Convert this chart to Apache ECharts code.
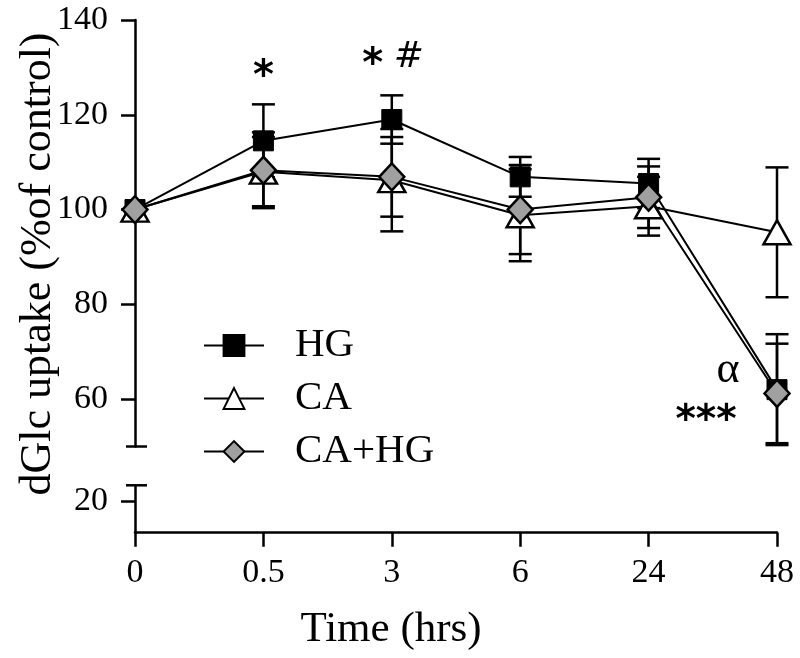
<!DOCTYPE html>
<html>
<head>
<meta charset="utf-8">
<script src="https://cdn.jsdelivr.net/npm/echarts@6/dist/echarts.min.js"></script>
<style>html,body{margin:0;padding:0;background:#fff}#c{width:800px;height:658px}</style>
</head>
<body>
<div id="c"></div>
<script>
// ---- data ----
const categories = ['0', '0.5', '3', '6', '24', '48'];
const hgMean   = [100, 114.5, 119.0, 106.9, 105.5, 62.0];
const hgErr    = [0, 7.7, 5.1, 4.2, 5.2, 11.7];
const caMean   = [100, 108.0, 106.2, 98.8, 100.7, 95.2];
const caErr    = [0, 7.3, 10.8, 9.7, 6.2, 13.7];
const cahgMean = [100, 108.3, 106.9, 100.0, 102.6, 61.2];
const cahgErr  = [0, 8.0, 8.4, 9.4, 6.5, 10.5];
const upperTicks = [60, 80, 100, 120, 140];
const lowerTicks = [20];
const upperRange = [50, 140];
const lowerRange = [10, 25];
// annotations: text, category index, y value
const annText = ['*', '*', '#', 'α', '***'];
const annCat  = [1, 2, 2, 5, 5];
const annVal  = [127.8, 130.3, 132.0, 66.0, 55.3];

const FONT = 'Liberation Serif';
const BLACK = '#000';
const axisLine = { show: true, lineStyle: { color: BLACK, width: 2.5 } };
const axisTickStyle = { color: BLACK, width: 2.5 };

function errSeries(name, mean, err) {
  return {
    type: 'custom', name: name + ' err', xAxisIndex: 0, yAxisIndex: 0, z: 1, clip: false,
    silent: true,
    data: mean.map((m, i) => [i, m, err[i]]),
    renderItem: function (params, api) {
      const x = api.value(0), m = api.value(1), e = api.value(2);
      if (!e) return null;
      const t = api.coord([x, m + e]);
      const b = api.coord([x, m - e]);
      const hw = 11.5;
      const st = { stroke: BLACK, lineWidth: 2.5 };
      return {
        type: 'group', children: [
          { type: 'line', shape: { x1: t[0], y1: t[1], x2: b[0], y2: b[1] }, style: st },
          { type: 'line', shape: { x1: t[0] - hw, y1: t[1], x2: t[0] + hw, y2: t[1] }, style: st },
          { type: 'line', shape: { x1: b[0] - hw, y1: b[1], x2: b[0] + hw, y2: b[1] }, style: st }
        ]
      };
    }
  };
}

function capSeries(gridIdx, val) {
  return {
    type: 'custom', xAxisIndex: gridIdx, yAxisIndex: gridIdx, silent: true, clip: false, z: 1,
    data: [[0, val]],
    renderItem: function (params, api) {
      const p = api.coord([api.value(0), api.value(1)]);
      return { type: 'line', shape: { x1: p[0] - 9, y1: p[1], x2: p[0] + 12, y2: p[1] },
               style: { stroke: BLACK, lineWidth: 2.5 } };
    }
  };
}

const starStyle = { fontFamily: 'DejaVu Sans', fontWeight: 'bold', fontSize: 40, color: BLACK, opacity: 1 };
const annStyles = [
  Object.assign({}, starStyle, { offset: [0, 0] }),
  Object.assign({}, starStyle, { offset: [-19, 0] }),
  { fontFamily: 'DejaVu Sans', fontStyle: 'italic', fontSize: 36, color: BLACK, opacity: 1, offset: [17, 0] },
  { fontFamily: FONT, fontSize: 44, color: BLACK, opacity: 1, offset: [-49, 0] },
  Object.assign({}, starStyle, { fontSize: 39, offset: [-71, 0] })
];

const option = {
  animation: false,
  backgroundColor: '#fff',
  grid: [
    { left: 135, right: 23, top: 20, bottom: 211.5 },
    { left: 135, right: 23, top: 485.3, bottom: 125.3 }
  ],
  xAxis: [
    { type: 'category', gridIndex: 0, data: categories, boundaryGap: false, show: false },
    { type: 'category', gridIndex: 1, data: categories, boundaryGap: false,
      axisLine: axisLine,
      axisTick: { show: true, length: 14, interval: 0, lineStyle: axisTickStyle },
      axisLabel: { interval: 0, color: BLACK, fontFamily: FONT, fontSize: 34, margin: 23 },
      splitLine: { show: false } }
  ],
  yAxis: [
    { type: 'value', gridIndex: 0, min: upperRange[0], max: upperRange[1],
      axisLine: axisLine,
      axisTick: { show: true, length: 14, customValues: upperTicks, lineStyle: axisTickStyle },
      axisLabel: { customValues: upperTicks, color: BLACK, fontFamily: FONT, fontSize: 34, margin: 27 },
      splitLine: { show: false } },
    { type: 'value', gridIndex: 1, min: lowerRange[0], max: lowerRange[1],
      axisLine: axisLine,
      axisTick: { show: true, length: 14, customValues: lowerTicks, lineStyle: axisTickStyle },
      axisLabel: { customValues: lowerTicks, color: BLACK, fontFamily: FONT, fontSize: 34, margin: 27 },
      splitLine: { show: false } }
  ],
  legend: {
    orient: 'vertical', left: 203, top: 325, padding: 0,
    itemWidth: 60, itemHeight: 26, itemGap: 12,
    data: ['HG', 'CA', 'CA+HG'],
    textStyle: { color: BLACK, fontFamily: FONT, fontSize: 41, lineHeight: 40, padding: [0, 0, 0, 26] }
  },
  graphic: [
    { type: 'text', x: 38, y: 264, rotation: Math.PI / 2,
      style: { text: 'dGlc uptake (%of control)', fill: BLACK, font: '44px "Liberation Serif"',
               textAlign: 'center', textVerticalAlign: 'middle' } },
    { type: 'text', x: 391, y: 630,
      style: { text: 'Time (hrs)', fill: BLACK, font: '43px "Liberation Serif"',
               textAlign: 'center', textVerticalAlign: 'middle' } }
  ],
  series: [
    errSeries('HG', hgMean, hgErr),
    errSeries('CA', caMean, caErr),
    errSeries('CA+HG', cahgMean, cahgErr),
    capSeries(0, upperRange[0]),
    capSeries(1, lowerRange[1]),
    { type: 'line', name: 'HG', xAxisIndex: 0, yAxisIndex: 0, z: 3, data: hgMean,
      symbol: 'rect', symbolSize: 20, showSymbol: true,
      lineStyle: { color: BLACK, width: 2 },
      itemStyle: { color: BLACK, borderColor: BLACK, borderWidth: 1 } },
    { type: 'line', name: 'CA', xAxisIndex: 0, yAxisIndex: 0, z: 4, data: caMean,
      symbol: 'triangle', symbolSize: [27, 24], showSymbol: true,
      lineStyle: { color: BLACK, width: 2 },
      itemStyle: { color: '#fff', borderColor: BLACK, borderWidth: 2.5 } },
    { type: 'line', name: 'CA+HG', xAxisIndex: 0, yAxisIndex: 0, z: 5, data: cahgMean,
      symbol: 'diamond', symbolSize: [25, 27], showSymbol: true,
      lineStyle: { color: BLACK, width: 2 },
      itemStyle: { color: '#a0a0a0', borderColor: BLACK, borderWidth: 2.5 } },
    { type: 'scatter', name: 'annotations', xAxisIndex: 0, yAxisIndex: 0, z: 6, silent: true, clip: false,
      symbol: 'circle', symbolSize: 1, itemStyle: { color: 'rgba(0,0,0,0)', opacity: 1 },
      data: annText.map((t, i) => ({
        value: [annCat[i], annVal[i]],
        label: Object.assign({ show: true, position: 'inside', formatter: t }, annStyles[i])
      })) }
  ]
};

const chart = echarts.init(document.getElementById('c'), null, { renderer: 'canvas' });
chart.setOption(option);
</script>
</body>
</html>
